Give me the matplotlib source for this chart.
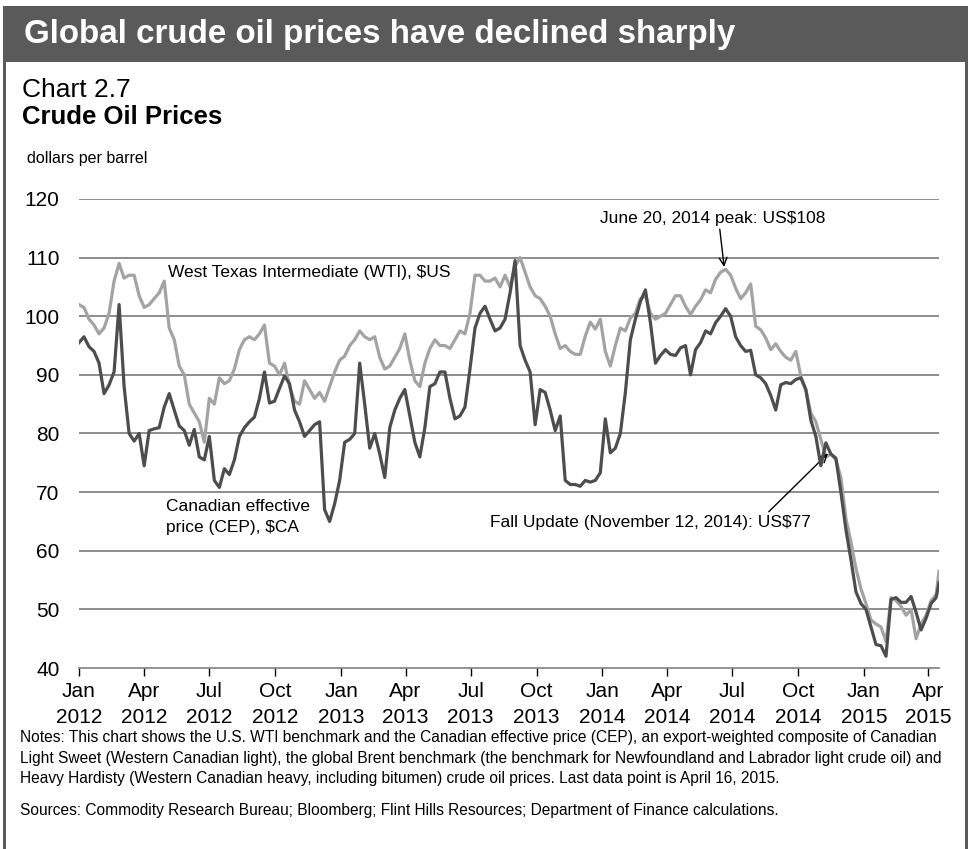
import matplotlib
matplotlib.use("Agg")
import matplotlib.pyplot as plt
from matplotlib.patches import Rectangle
import pandas as pd
from matplotlib import font_manager

names = {f.name for f in font_manager.fontManager.ttflist}
FONT = "Liberation Sans" if "Liberation Sans" in names else "DejaVu Sans"
plt.rcParams["font.family"] = [FONT, "DejaVu Sans"]

# ---- data (weekly, Jan 2012 - Apr 16 2015) ----
wti = [102, 101.5, 99.5, 98.5, 97, 98, 100.5, 106, 109, 106.5, 107, 107, 103.5, 101.5, 102, 103,
       104, 106, 98, 96, 91.5, 90, 85, 83.5, 82, 78.5, 86, 85, 89.5, 88.5, 89, 91,
       94.3, 96, 96.5, 96, 97, 98.5, 92, 91.5, 90, 92, 88, 85.5, 85, 89, 87.5, 86,
       87, 85.5, 88, 90.5, 92.5, 93.2, 95, 96, 97.5, 96.5, 96, 96.5, 93, 91, 91.5, 93,
       94.5, 97, 92.5, 89, 88, 92, 94.5, 96, 95, 95, 94.5, 96, 97.5, 97, 100.5, 107,
       107, 106, 106, 106.5, 105, 107, 105, 108.5, 110, 107.5, 105, 103.5, 103, 101.7, 100, 97,
       94.5, 95, 94, 93.5, 93.5, 96.6, 99, 97.8, 99.5, 94, 91.5, 95, 98, 97.5, 99.7, 100.5,
       103, 103.5, 100.5, 99.5, 100, 100.5, 102, 103.5, 103.5, 101.7, 100.3, 101.7, 102.8, 104.5, 104, 106.3,
       107.5, 108, 107, 104.8, 103, 104, 105.5, 98.3, 97.7, 96.3, 94.3, 95.3, 94, 93, 92.5, 94,
       89.8, 87.5, 83.5, 82, 79, 76, 76.5, 75.5, 72.5, 65.5, 61.5, 57, 53.5, 51, 48.2, 47.5,
       47, 44.5, 52, 51.5, 50.5, 49, 50, 45, 47.5, 49, 51.5, 52.5, 56.5]

cep = [95.5, 96.5, 94.8, 94, 92, 86.8, 88.3, 90.5, 102, 88, 80, 78.7, 80, 74.5, 80.5, 80.8,
       81, 84.5, 86.8, 84, 81.3, 80.5, 78, 80.7, 76, 75.5, 79.5, 72, 70.8, 74, 73, 75.5,
       79.5, 81, 82, 82.8, 86, 90.5, 85.2, 85.5, 87.7, 89.8, 88.5, 84, 82, 79.5, 80.5, 81.5,
       82, 67, 65, 68, 72, 78.5, 79, 80, 92, 85, 77.5, 80, 76.5, 72.5, 81, 84,
       86, 87.5, 83, 78.5, 76, 81, 88, 88.5, 90.5, 90.5, 86, 82.5, 83, 84.5, 91, 98,
       100.5, 101.7, 99.5, 97.5, 98, 99.5, 104, 109.5, 95, 92.5, 90.5, 81.5, 87.5, 87, 84, 80.5,
       83, 72, 71.3, 71.3, 71, 72, 71.7, 72, 73.3, 82.5, 76.7, 77.5, 80, 87, 96, 99.5,
       102.5, 104.5, 98.9, 92, 93.3, 94.3, 93.5, 93.3, 94.6, 95, 90, 94.3, 95.5, 97.5, 97, 98.9,
       100, 101.3, 100, 96.5, 95, 94, 94.2, 90, 89.5, 88.5, 86.5, 84, 88.3, 88.7, 88.5, 89.2,
       89.5, 87.5, 82.3, 79.5, 74.5, 78.4, 76.5, 75.8, 70, 63.6, 58.5, 53, 51, 50, 47, 44,
       43.8, 42, 51.7, 52, 51.2, 51.2, 52.2, 49.5, 46.5, 48.5, 51, 52, 54.5]

dates = list(pd.date_range("2012-01-01", periods=len(wti) - 1, freq="7D")) + [pd.Timestamp("2015-04-16")]

tick_dates = pd.date_range("2012-01-01", "2015-04-01", freq="QS")
tick_labels = [f"{d.strftime('%b')}\n{d.year}" for d in tick_dates]
yticks = [40, 50, 60, 70, 80, 90, 100, 110, 120]

# ---- figure ----
W, H = 970, 849
fig = plt.figure(figsize=(W / 100, H / 100), dpi=100)

def fx(x):
    return x / W

def fy(y):
    return 1 - y / H

GRAY = "#5a5a5a"
fig.patches.append(Rectangle((fx(3), fy(62)), fx(965), 56 / H, transform=fig.transFigure,
                             facecolor=GRAY, edgecolor="none", zorder=0))
fig.patches.append(Rectangle((fx(3), 0), fx(3), fy(6), transform=fig.transFigure,
                             facecolor=GRAY, edgecolor="none", zorder=0))
fig.patches.append(Rectangle((fx(965), 0), fx(3), fy(6), transform=fig.transFigure,
                             facecolor=GRAY, edgecolor="none", zorder=0))

fig.text(fx(24), fy(34), "Global crude oil prices have declined sharply", color="white",
         fontsize=23.9, fontweight="bold", va="center", ha="left")
fig.text(fx(22), fy(97), "Chart 2.7", fontsize=19, va="baseline", ha="left")
fig.text(fx(22), fy(124), "Crude Oil Prices", fontsize=18.5, fontweight="bold", va="baseline", ha="left")
fig.text(fx(27), fy(158), "dollars per barrel", fontsize=11.5, va="center", ha="left")

ax = fig.add_axes([fx(79), fy(668), fx(939 - 79), (668 - 199) / H])
ax.plot(dates, wti, color="#a3a3a3", lw=2.3, solid_joinstyle="round", zorder=3)
ax.plot(dates, cep, color="#4d4d4d", lw=2.3, solid_joinstyle="round", zorder=4)

ax.set_ylim(40, 120)
ax.set_xlim(pd.Timestamp("2012-01-01"), pd.Timestamp("2015-04-16"))
ax.set_yticks(yticks)
ax.tick_params(axis="y", length=0, pad=14, labelsize=15)
ax.set_xticks(tick_dates)
ax.set_xticklabels(tick_labels, linespacing=1.5)
ax.tick_params(axis="x", length=6, width=1, direction="out", pad=4, labelsize=15)
for s in ["left", "right", "top"]:
    ax.spines[s].set_visible(False)
ax.spines["bottom"].set_color("#808080")
ax.spines["bottom"].set_linewidth(1.2)
for v in yticks[1:]:
    ax.axhline(v, color="#6e6e6e", lw=1.1, zorder=1)

ax.text(fx(168), fy(273), "West Texas Intermediate (WTI), $US", transform=fig.transFigure,
        fontsize=12.5, va="center", ha="left")
ax.text(fx(166), fy(517), "Canadian effective\nprice (CEP), $CA", transform=fig.transFigure,
        fontsize=12.5, va="center", ha="left", linespacing=1.45)
ax.annotate("June 20, 2014 peak: US$108", xy=(pd.Timestamp("2014-06-20"), 108.4),
            xytext=(fx(600), fy(219)), textcoords="figure fraction", fontsize=12.5,
            va="center", ha="left",
            arrowprops=dict(arrowstyle="->", color="black", lw=1,
                            shrinkA=0, shrinkB=0, mutation_scale=14,
                            relpos=(0.53, 0.0)))
ax.annotate("Fall Update (November 12, 2014): US$77", xy=(pd.Timestamp("2014-11-12"), 76.6),
            xytext=(fx(490), fy(522)), textcoords="figure fraction", fontsize=12.5,
            va="center", ha="left",
            arrowprops=dict(arrowstyle="->", color="black", lw=1,
                            shrinkA=0, shrinkB=0, mutation_scale=14,
                            relpos=(0.86, 1.0)))

notes = ("Notes: This chart shows the U.S. WTI benchmark and the Canadian effective price (CEP), an export-weighted composite of Canadian\n"
         "Light Sweet (Western Canadian light), the global Brent benchmark (the benchmark for Newfoundland and Labrador light crude oil) and\n"
         "Heavy Hardisty (Western Canadian heavy, including bitumen) crude oil prices. Last data point is April 16, 2015.")
fig.text(fx(20), fy(758), notes, fontsize=11.2, va="center", ha="left", linespacing=1.45)
fig.text(fx(20), fy(810), "Sources: Commodity Research Bureau; Bloomberg; Flint Hills Resources; Department of Finance calculations.",
         fontsize=11.2, va="center", ha="left")

fig.savefig("out.png", dpi=100)
